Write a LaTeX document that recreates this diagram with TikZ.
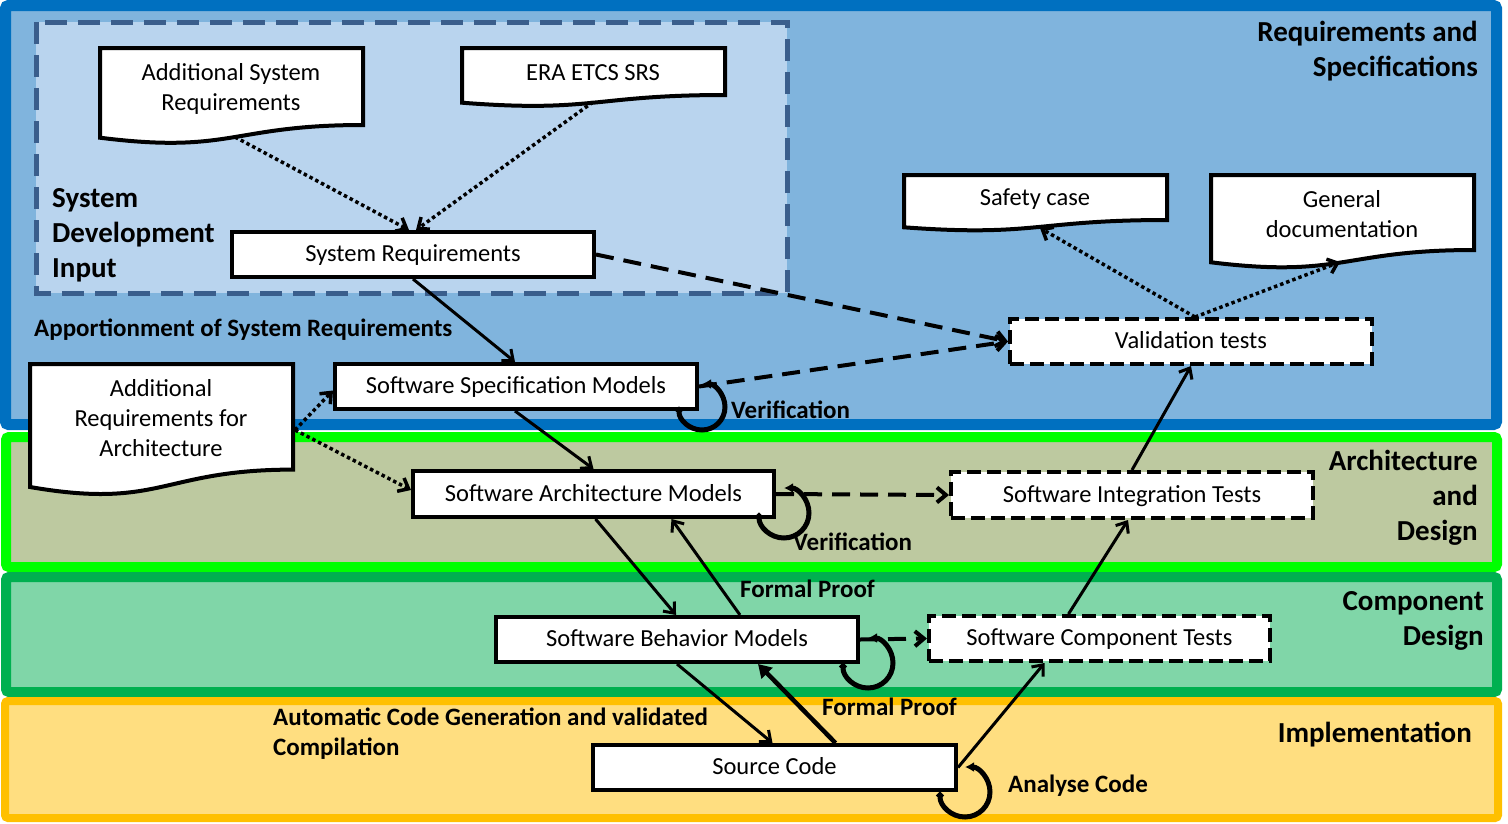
\documentclass[tikz,border=0pt]{standalone}
\usepackage{fontspec}
\setmainfont{Carlito}
\usetikzlibrary{arrows.meta,calc}
\definecolor{bluebd}{HTML}{0070C0}
\definecolor{bluefill}{HTML}{80B4DD}
\definecolor{sdifill}{HTML}{B9D4EE}
\definecolor{sdibd}{HTML}{3A5E8C}
\definecolor{greenbd}{HTML}{00FF00}
\definecolor{greenfill}{HTML}{BDC9A0}
\definecolor{dgreenbd}{HTML}{00B050}
\definecolor{dgreenfill}{HTML}{80D6A8}
\definecolor{yellowbd}{HTML}{FFC000}
\definecolor{yellowfill}{HTML}{FFDE80}
\tikzset{
  band/.style={rounded corners=3pt},
  box/.style={draw=black, line width=4pt, fill=white, inner sep=0pt,
    minimum height=45pt, text height=17pt, text depth=3pt,
    font=\fontsize{24.5}{30}\selectfont},
  testbox/.style={box, dash pattern=on 14pt off 6pt},
  doc/.style={draw=black, line width=4pt, fill=white},
  doctext/.style={inner sep=0pt, align=center, font=\fontsize{24.5}{30}\selectfont},
  lbl/.style={inner sep=0pt, font=\fontsize{25}{30}\selectfont\bfseries},
  title/.style={inner sep=0pt, font=\fontsize{29}{35}\selectfont\bfseries},
  tipv/.style={-{Straight Barb[length=9pt,width=15pt]}},
  arr/.style={tipv, line width=3pt},
  thickarr/.style={-{Triangle[length=13pt,width=15pt]}, line width=4.5pt},
  dotarr/.style={tipv, line width=3.5pt, dash pattern=on 3.5pt off 3pt},
  dasharr/.style={tipv, line width=4pt, dash pattern=on 18pt off 10pt},
  loopline/.style={line width=5pt, {Circle[length=7pt]}-{Latex[length=9pt,width=10pt]}},
}
\begin{document}
\begin{tikzpicture}[x=1pt,y=-1pt]
\useasboundingbox (0,0) rectangle (1508,823);
% bands
\draw[band, draw=bluebd, fill=bluefill, line width=11pt] (5.5,5.5) rectangle (1496.5,424.5);
\draw[band, draw=greenbd, fill=greenfill, line width=10pt] (6,437) rectangle (1497,567);
\draw[band, draw=dgreenbd, fill=dgreenfill, line width=10pt] (6,577) rectangle (1497,692);
\draw[band, draw=yellowbd, fill=yellowfill, line width=8pt] (5,701) rectangle (1498,818);
% system development input
\draw[draw=sdibd, fill=sdifill, line width=5pt, dash pattern=on 22pt off 11pt] (36,22) rectangle (787,293);

% titles
\node[title, anchor=east, align=right] (trs) at (1478,51) {Requirements and\\Specifications};
\node[title, anchor=west, align=left] (tsdi) at (52,235) {System\\Development\\Input};
\node[title, anchor=east, align=right] (tad) at (1478,498) {Architecture\\and\\Design};
\node[title, anchor=east, align=right] (tcd) at (1484,621) {Component\\Design};
\node[title, anchor=base east] (timp) at (1472,742) {Implementation};

% documents
\draw[doc] (100,48) -- (363,48) -- (363,125) .. controls (231.5,125) and (231.5,154.3) .. (100,137.7) -- cycle;
\node[doctext] (asr) at (231,89) {Additional System\\Requirements};
\draw[doc] (462,48) -- (725,48) -- (725,95) .. controls (593.5,95) and (593.5,112.9) .. (462,102.7) -- cycle;
\node[doctext] (era) at (593,73) {ERA ETCS SRS};
\draw[doc] (30,364) -- (293,364) -- (293,469.6) .. controls (161.5,469.6) and (161.5,509.8) .. (30,487) -- cycle;
\node[doctext] (ara) at (161,418) {Additional\\Requirements for\\Architecture};
\draw[doc] (904,175) -- (1167,175) -- (1167,220) .. controls (1035.5,220) and (1035.5,237) .. (904,227.3) -- cycle;
\node[doctext] (safe) at (1035,199) {Safety case};
\draw[doc] (1211,175) -- (1474,175) -- (1474,250) .. controls (1342.5,250) and (1342.5,278.5) .. (1211,262.3) -- cycle;
\node[doctext] (gen) at (1342,214) {General\\documentation};
\coordinate (asrb) at (235,137);
\coordinate (erab) at (593,102);
\coordinate (arar) at (295,430);
\coordinate (safeb) at (1040,228);
\coordinate (genb) at (1340,262);

% boxes
\node[box, minimum width=362pt] (sr) at (413,254.5) {System Requirements};
\node[box, minimum width=362pt] (ssm) at (516,386.5) {Software Specification Models};
\node[box, minimum width=361pt, minimum height=46pt] (sam) at (593.5,494) {Software Architecture Models};
\node[testbox, minimum width=362pt, minimum height=46pt] (sit) at (1132,495) {Software Integration Tests};
\node[testbox, minimum width=362pt] (vt) at (1191,341.5) {Validation tests};
\node[box, minimum width=362pt] (sbm) at (677,639.5) {Software Behavior Models};
\node[testbox, minimum width=341pt] (sct) at (1099.5,638.5) {Software Component Tests};
\node[box, minimum width=363pt] (sc) at (774.5,767.5) {Source Code};

% labels
\node[lbl, anchor=base west] (apport) at (34,336) {Apportionment of System Requirements};
\node[lbl, anchor=base west] (ver1) at (731,418) {Verification};
\node[lbl, anchor=base west] (ver2) at (793,550) {Verification};
\node[lbl, anchor=base west] (fp1) at (740,597) {Formal Proof};
\node[lbl, anchor=base west] (fp2) at (822,715) {Formal Proof};
\node[lbl, anchor=west, align=left] (acg) at (273,734) {Automatic Code Generation and validated\\Compilation};
\node[lbl, anchor=base west] (ana) at (1008,792) {Analyse Code};

% connectors
\draw[dotarr] (asrb) -- ([xshift=-4pt]sr.north);
\draw[dotarr] (erab) -- ([xshift=3pt]sr.north);
\draw[arr] (sr.south) -- ([xshift=-1pt]ssm.north);
\draw[dasharr] (sr.east) -- (vt.west);
\draw[dasharr] (ssm.east) -- (vt.west);
\draw[arr] ([xshift=-1pt]ssm.south) -- (sam.north);
\draw[dotarr] (arar) -- ([yshift=-4pt]ssm.west);
\draw[dotarr] (arar) -- ([yshift=4pt]sam.west);
\draw[dasharr] (sam.east) -- (sit.west);
\draw[arr] ([xshift=2pt]sam.south) -- ([xshift=-1pt]sbm.north);
\draw[arr] ([xshift=63pt]sbm.north) -- ([xshift=78pt]sam.south);
\draw[dasharr] (sbm.east) -- (sct.west);
\draw[arr] (sbm.south) -- ([xshift=-2pt]sc.north);
\draw[thickarr] ([xshift=61pt]sc.north) -- ([xshift=81pt]sbm.south);
\draw[arr] (sc.east) -- ([xshift=-55pt]sct.south);
\draw[arr] ([xshift=-31pt]sct.north) -- ([xshift=-4pt]sit.south);
\draw[arr] (sit.north) -- (vt.south);
\draw[dotarr] ([xshift=4pt]vt.north) -- (safeb);
\draw[dotarr] ([xshift=4pt]vt.north) -- (genb);

% verification loops
\draw[loopline] ([xshift=-20pt,yshift=4pt]ssm.south east) arc[start angle=180, end angle=450, radius=23pt];
\draw[loopline] ([xshift=-17pt,yshift=6pt]sam.south east) arc[start angle=180, end angle=450, radius=25pt];
\draw[loopline] ([xshift=-17pt,yshift=1pt]sbm.south east) arc[start angle=180, end angle=450, radius=25pt];
\draw[loopline] ([xshift=-18pt,yshift=0pt]sc.south east) arc[start angle=180, end angle=450, radius=25pt];
\end{tikzpicture}
\end{document}
